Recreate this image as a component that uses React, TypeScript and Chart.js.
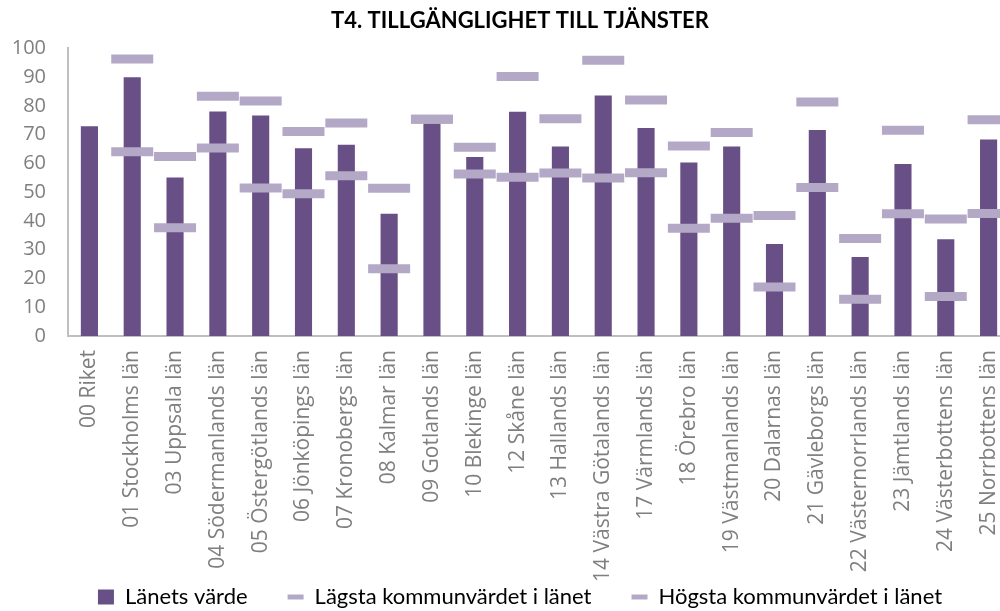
import React, { useEffect, useRef } from "react";
import { Chart, registerables } from "chart.js";

Chart.register(...registerables);

const categories = [
  "00 Riket",
  "01 Stockholms län",
  "03 Uppsala län",
  "04 Södermanlands län",
  "05 Östergötlands län",
  "06 Jönköpings län",
  "07 Kronobergs län",
  "08 Kalmar län",
  "09 Gotlands län",
  "10 Blekinge län",
  "12 Skåne län",
  "13 Hallands län",
  "14 Västra Götalands län",
  "17 Värmlands län",
  "18 Örebro län",
  "19 Västmanlands län",
  "20 Dalarnas län",
  "21 Gävleborgs län",
  "22 Västernorrlands län",
  "23 Jämtlands län",
  "24 Västerbottens län",
  "25 Norrbottens län",
];

const lanetsVarde = [
  72.9, 90.0, 55.1, 78.1, 76.7, 65.3, 66.5, 42.5, 75.4, 62.2, 78.0, 65.9,
  83.6, 72.3, 60.3, 65.9, 32.0, 71.6, 27.5, 59.8, 33.6, 68.3,
];

const lagstaKommun = [
  null, 64.1, 37.6, 65.4, 51.5, 49.5, 55.7, 23.4, 75.4, 56.3, 55.2, 56.7,
  54.9, 56.8, 37.5, 40.9, 17.0, 51.6, 12.8, 42.5, 13.7, 42.6,
];

const hogstaKommun = [
  null, 96.3, 62.4, 83.4, 81.7, 71.1, 74.1, 51.4, 75.4, 65.6, 90.2, 75.5,
  95.9, 82.1, 66.1, 70.8, 41.9, 81.4, 33.9, 71.5, 40.7, 75.2,
];

const yTicks = [0, 10, 20, 30, 40, 50, 60, 70, 80, 90, 100];

const BAR_COLOR = "#684f86";
const MARK_COLOR = "#b4a8c7";
const TITLE_FONT = "Lato, 'Open Sans', sans-serif";
const AXIS_FONT = "'Open Sans', 'DejaVu Sans', sans-serif";

const CANVAS_W = 1042;
const CANVAS_H = 618;

const noLabelClip = {
  id: "noLabelClip",
  beforeDraw(chart: any) {
    const sx = chart.scales.x;
    const sy = chart.scales.y;
    if (sx) sx._computeLabelArea = () => undefined;
    if (sy) sy._computeLabelArea = () => undefined;
  },
};

export default function App() {
  const ref = useRef<HTMLCanvasElement | null>(null);

  useEffect(() => {
    document.documentElement.style.overflow = "hidden";
    document.body.style.margin = "0";
    const canvas = ref.current;
    if (!canvas) return;
    const chart = new Chart(canvas, {
      type: "bar",
      data: {
        labels: categories,
        datasets: [
          {
            type: "bar",
            label: "Länets värde",
            data: lanetsVarde,
            backgroundColor: BAR_COLOR,
            borderWidth: 0,
            barPercentage: 0.4,
            categoryPercentage: 1,
            order: 2,
          },
          {
            type: "line",
            label: "Lägsta kommunvärdet i länet",
            data: lagstaKommun as any,
            showLine: false,
            pointStyle: "line",
            pointRadius: 21,
            pointHoverRadius: 21,
            pointBorderWidth: 9,
            borderColor: MARK_COLOR,
            backgroundColor: MARK_COLOR,
            order: 1,
          },
          {
            type: "line",
            label: "Högsta kommunvärdet i länet",
            data: hogstaKommun as any,
            showLine: false,
            pointStyle: "line",
            pointRadius: 21,
            pointHoverRadius: 21,
            pointBorderWidth: 9,
            borderColor: MARK_COLOR,
            backgroundColor: MARK_COLOR,
            order: 1,
          },
        ],
      },
      plugins: [noLabelClip],
      options: {
        animation: false,
        responsive: false,
        maintainAspectRatio: false,
        layout: { padding: { left: 30, right: 32, top: 0, bottom: 0 } },
        plugins: {
          title: {
            display: true,
            text: "T4. TILLGÄNGLIGHET TILL TJÄNSTER",
            color: "#000000",
            font: { family: TITLE_FONT, size: 22, weight: "bold" },
            padding: { top: 8, bottom: 14 },
          },
          legend: {
            position: "bottom",
            labels: {
              color: "#000000",
              font: { family: TITLE_FONT, size: 22 },
              usePointStyle: true,
              pointStyleWidth: 16,
              boxWidth: 16,
              boxHeight: 15,
              padding: 40,
              generateLabels: (c: any) =>
                c.data.datasets.map((ds: any, i: number) => ({
                  text: ds.label,
                  fillStyle: i === 0 ? BAR_COLOR : MARK_COLOR,
                  strokeStyle: i === 0 ? BAR_COLOR : MARK_COLOR,
                  lineWidth: i === 0 ? 0 : 5,
                  pointStyle: i === 0 ? "rect" : "line",
                  datasetIndex: i,
                  hidden: false,
                  fontColor: "#000000",
                })),
            },
          },
          tooltip: { enabled: false },
        },
        scales: {
          x: {
            offset: true,
            grid: { display: false, drawTicks: false },
            border: { display: true, color: "#bfbfbf", width: 2 },
            afterFit: (scale: any) => {
              scale.height = 210;
            },
            ticks: {
              color: "#7f7f7f",
              font: { family: AXIS_FONT, size: 21 },
              minRotation: 90,
              maxRotation: 90,
              autoSkip: false,
              padding: 14,
            },
          },
          y: {
            min: 0,
            max: 100,
            afterBuildTicks: (axis: any) => {
              axis.ticks = yTicks.map((v) => ({ value: v }));
            },
            afterFit: (scale: any) => {
              scale.width = 38;
            },
            grid: { display: false, drawTicks: false },
            border: { display: true, color: "#bfbfbf", width: 2 },
            ticks: {
              color: "#7f7f7f",
              font: { family: AXIS_FONT, size: 20 },
              padding: 22,
            },
          },
        },
      },
    });
    return () => chart.destroy();
  }, []);

  return (
    <div style={{ position: "fixed", left: 0, top: 0, width: CANVAS_W, height: CANVAS_H }}>
      <canvas
        ref={ref}
        width={CANVAS_W}
        height={CANVAS_H}
        style={{ width: CANVAS_W, height: CANVAS_H }}
      />
    </div>
  );
}
